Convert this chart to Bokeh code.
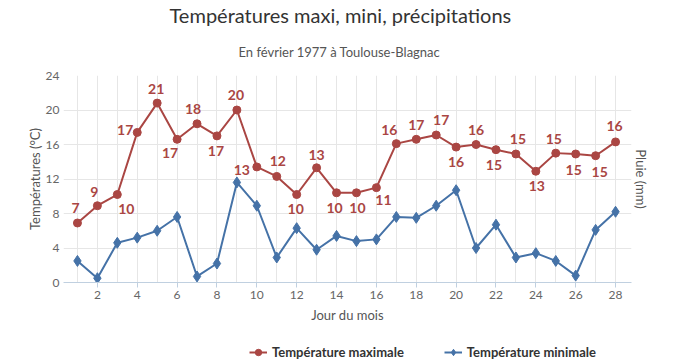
from bokeh.plotting import figure
from bokeh.layouts import column
from bokeh.models import (ColumnDataSource, FixedTicker, LinearAxis, Title,
                          Legend, LegendItem, Range1d)
from bokeh.core.properties import value
from bokeh.embed import file_html
from bokeh.resources import INLINE

# ---- data ----
days = list(range(1, 29))
tmax = [6.9, 8.9, 10.2, 17.4, 20.8, 16.6, 18.4, 17.0, 20.0, 13.4, 12.3, 10.2, 13.3, 10.4,
        10.4, 11.0, 16.1, 16.6, 17.1, 15.7, 16.0, 15.4, 14.9, 12.9, 15.0, 14.9, 14.7, 16.3]
tmin = [2.5, 0.5, 4.6, 5.2, 6.0, 7.6, 0.7, 2.2, 11.6, 8.9, 2.9, 6.3, 3.8, 5.4,
        4.8, 5.0, 7.6, 7.5, 8.9, 10.7, 4.0, 6.7, 2.9, 3.4, 2.5, 0.8, 6.1, 8.2]
x_ticks = list(range(2, 29, 2))
y_ticks = [0, 4, 8, 12, 16, 20, 24]
series_names = ["Température maximale", "Température minimale"]

# label placement offsets (style, px)
label_dx = [-2, -3, 9, -12, -1, -7, -4, -1, -1, -15, 1, -1, 0, -2,
            1, 7, -7, 0, 5, 0, 0, -2, 2, 1, -2, -2, 4, -1]
label_dy = [-15, -14, 14, -2, -14, 14, -15, 15, -15, 3, -15, 14, -13, 15,
            15, 12, -14, -14, -15, 15, -15, 15, -15, 15, -14, 16, 16, -16]

RED = "#AA4643"
BLUE = "#4572A7"
FONT = "Lato"

p = figure(width=700, height=330, x_range=Range1d(0.3, 28.8), y_range=Range1d(0, 24),
           output_backend="svg", toolbar_location=None,
           min_border_left=63, min_border_right=69, min_border_bottom=48, min_border_top=72)
p.outline_line_color = None
p.background_fill_color = "white"
p.border_fill_color = "white"

# titles (first added is closest to the plot)
sub = Title(text="En février 1977 à Toulouse-Blagnac", align="left",
            text_font=FONT, text_font_size="13px", text_font_style="normal",
            text_color="#555555", offset=175, standoff=31)
p.add_layout(sub, "above")
main = Title(text="Températures maxi, mini, précipitations", align="left",
             text_font=FONT, text_font_size="20px", text_font_style="normal",
             text_color="#333333", offset=106, standoff=0, text_line_height=0.3)
p.add_layout(main, "above")

# grids
p.xgrid.ticker = FixedTicker(ticks=days)
p.ygrid.ticker = FixedTicker(ticks=y_ticks)
p.xgrid.grid_line_color = "#e6e6e6"
p.ygrid.grid_line_color = "#e6e6e6"

# x axis
xa = p.xaxis[0]
xa.ticker = FixedTicker(ticks=x_ticks)
xa.axis_label = "Jour du mois"
xa.axis_line_color = "#C0D0E0"
xa.major_tick_line_color = "#C0D0E0"
xa.major_tick_out = 5
xa.major_tick_in = 0
xa.minor_tick_line_color = None
xa.major_label_text_font = FONT
xa.major_label_text_font_size = "12px"
xa.major_label_text_color = "#666666"
xa.major_label_standoff = 3
xa.axis_label_text_font = FONT
xa.axis_label_text_font_size = "13px"
xa.axis_label_text_font_style = "normal"
xa.axis_label_text_color = "#555555"
xa.axis_label_standoff = 5

# left y axis
ya = p.yaxis[0]
ya.ticker = FixedTicker(ticks=y_ticks)
ya.axis_label = "Températures (°C)"
ya.axis_line_color = None
ya.major_tick_line_color = None
ya.major_tick_out = 0
ya.major_tick_in = 0
ya.minor_tick_line_color = None
ya.minor_tick_out = 0
ya.major_label_text_font = FONT
ya.major_label_text_font_size = "12px"
ya.major_label_text_color = "#666666"
ya.major_label_standoff = 4
ya.axis_label_text_font = FONT
ya.axis_label_text_font_size = "13px"
ya.axis_label_text_font_style = "normal"
ya.axis_label_text_color = "#555555"
ya.axis_label_standoff = 0

# right axis (rain, no ticks)
ra = LinearAxis(axis_label="Pluie (mm)", ticker=FixedTicker(ticks=[]),
                axis_line_color=None, major_tick_line_color=None,
                minor_tick_line_color=None, major_tick_out=0, major_tick_in=0,
                minor_tick_out=0,
                axis_label_text_font=FONT, axis_label_text_font_size="13px",
                axis_label_text_font_style="normal", axis_label_text_color="#555555",
                axis_label_standoff=1)
p.add_layout(ra, "right")

# series
src_max = ColumnDataSource(dict(x=days, y=tmax, txt=[str(round(v)) for v in tmax],
                                dx=label_dx, dy=label_dy))
src_min = ColumnDataSource(dict(x=days, y=tmin))

p.line("x", "y", source=src_max, color=RED, line_width=2)
p.scatter("x", "y", source=src_max, marker="circle", size=8, color=RED)
p.line("x", "y", source=src_min, color=BLUE, line_width=2)
p.scatter("x", "y", source=src_min, marker="diamond", size=11, color=BLUE)

p.text("x", "y", text="txt", source=src_max, x_offset="dx", y_offset="dy",
       text_font=value(FONT), text_font_style="bold", text_font_size="14px",
       text_color=RED, text_align="center", text_baseline="middle")

# legend strip below the chart: proxies of the same series, drawn out of view
pl = figure(width=700, height=34, x_range=Range1d(-20, -10), y_range=Range1d(-20, -10),
            output_backend="svg", toolbar_location=None,
            x_axis_location=None, y_axis_location=None, min_border=0)
pl.outline_line_color = None
pl.xgrid.visible = False
pl.ygrid.visible = False
lg_max = pl.line("x", "y", source=src_max, color=RED, line_width=2)
lg_max_m = pl.scatter("x", "y", source=src_max, marker="circle", size=8, color=RED)
lg_min = pl.line("x", "y", source=src_min, color=BLUE, line_width=2)
lg_min_m = pl.scatter("x", "y", source=src_min, marker="diamond", size=11, color=BLUE)

legend = Legend(items=[LegendItem(label=series_names[0], renderers=[lg_max, lg_max_m]),
                       LegendItem(label=series_names[1], renderers=[lg_min, lg_min_m])],
                location=(186, 4), orientation="horizontal",
                label_text_font=FONT, label_text_font_size="13px",
                label_text_font_style="bold", label_text_color="#333333",
                glyph_width=18, glyph_height=16, label_height=16, label_standoff=5,
                spacing=40, padding=0, margin=0, border_line_color=None,
                background_fill_alpha=0)
pl.add_layout(legend)

layout = column(p, pl, spacing=0)
open("out.html", "w").write(file_html(layout, INLINE))
